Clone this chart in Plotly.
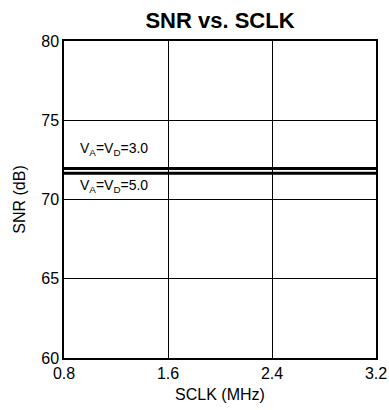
import plotly.graph_objects as go

sclk_mhz = [0.8, 1.6, 2.4, 3.2]
snr_3v0 = [71.95, 71.95, 71.95, 71.95]
snr_5v0 = [71.65, 71.65, 71.65, 71.65]
x_ticks = [0.8, 1.6, 2.4, 3.2]
y_ticks = [60, 65, 70, 75, 80]

font = "Liberation Sans, Arial, sans-serif"

fig = go.Figure()
fig.add_trace(go.Scatter(x=sclk_mhz, y=snr_3v0, mode="lines",
                         line=dict(color="black", width=3), showlegend=False))
fig.add_trace(go.Scatter(x=sclk_mhz, y=snr_5v0, mode="lines",
                         line=dict(color="black", width=3), showlegend=False))

fig.add_annotation(x=0.8, y=71.95, xref="x", yref="y", xanchor="left", yanchor="bottom",
                   xshift=14, yshift=9, showarrow=False,
                   text="V<sub>A</sub>=V<sub>D</sub>=3.0",
                   font=dict(family=font, size=14, color="black"))
fig.add_annotation(x=0.8, y=71.65, xref="x", yref="y", xanchor="left", yanchor="top",
                   xshift=14, yshift=-2, showarrow=False,
                   text="V<sub>A</sub>=V<sub>D</sub>=5.0",
                   font=dict(family=font, size=14, color="black"))

fig.update_layout(
    width=389, height=410,
    margin=dict(l=64, r=13, t=41, b=52),
    paper_bgcolor="white", plot_bgcolor="white",
    font=dict(family=font, size=16, color="black"),
    title=dict(text="<b>SNR vs. SCLK</b>", x=0.5655, xanchor="center", y=0.951, yanchor="middle",
               font=dict(family=font, size=22, color="black")),
    xaxis=dict(range=[0.8, 3.2], tickvals=x_ticks, ticktext=[f"{v:.1f}" for v in x_ticks],
               showgrid=True, gridcolor="black", gridwidth=1,
               showline=True, linecolor="black", linewidth=1.5, mirror=True,
               ticks="", zeroline=False, automargin=False,
               title=dict(text="SCLK (MHz)", standoff=8, font=dict(size=16)),
               tickfont=dict(size=16)),
    yaxis=dict(range=[60, 80], tickvals=y_ticks,
               showgrid=True, gridcolor="black", gridwidth=1,
               showline=True, linecolor="black", linewidth=1.5, mirror=True,
               ticks="", zeroline=False, automargin=False,
               title=dict(text="SNR (dB)", standoff=12, font=dict(size=16)),
               tickfont=dict(size=16)),
)

fig.write_html("out.html")
